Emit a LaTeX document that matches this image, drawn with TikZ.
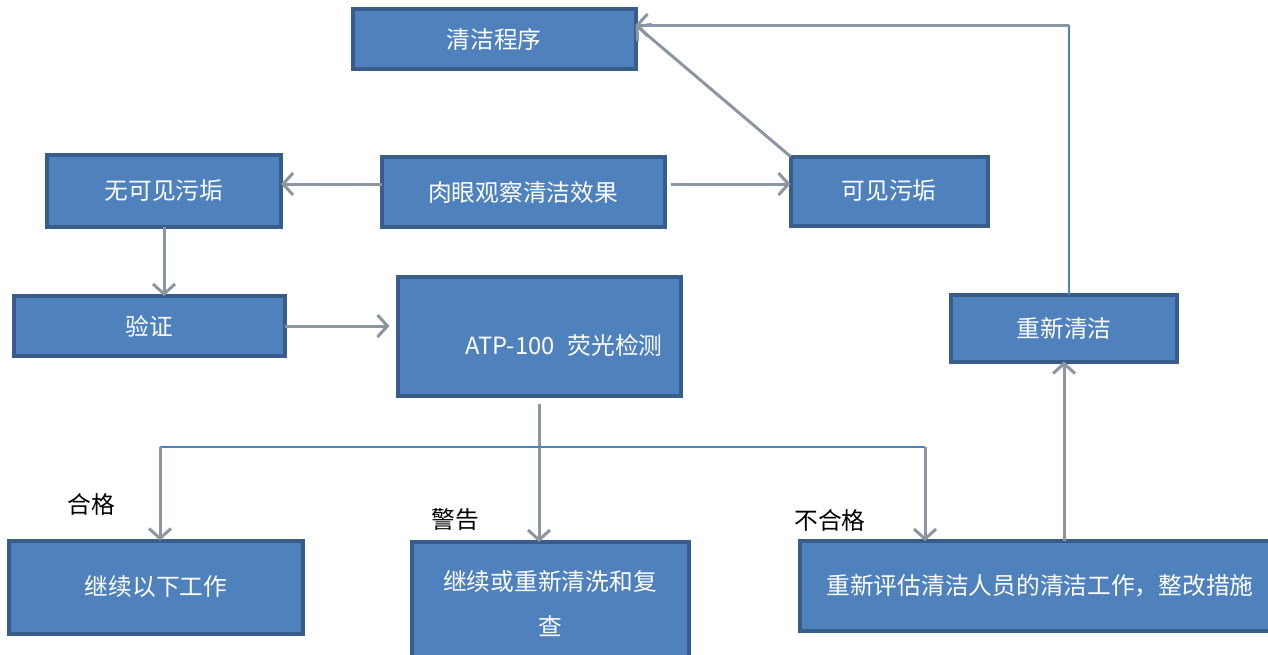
\documentclass[tikz,border=0pt]{standalone}
\usepackage{fontspec}
\setmainfont{Noto Sans CJK SC}
\usetikzlibrary{arrows.meta}
\newcommand{\unit}{*0.2mm}
\newcommand{\arrow}{{Straight Barb[length=10\unit, width=22\unit]}}
\newcommand{\lineWidth}{3\unit}
\newcommand{\borderWidth}{4\unit}
\definecolor{boxBlue}{HTML}{4F81BD}
\definecolor{boxEdge}{HTML}{385D8A}
\definecolor{lineGray}{HTML}{8C96A3}
\tikzstyle{box}=[draw=boxEdge, fill=boxBlue, line width=\borderWidth, text=white, inner sep=0, outer sep=0, font=\fontsize{13.5}{15}\selectfont]
\tikzstyle{line}=[draw=lineGray, line width=\lineWidth]
\tikzstyle{arrow}=[line, -\arrow]
\tikzstyle{wire}=[draw=boxBlue, line width=2.5\unit]
\tikzstyle{tag}=[inner sep=0, text=black, font=\fontsize{13.5}{15}\selectfont]

\begin{document}
\begin{tikzpicture}[x=0.2mm, y=-0.2mm]

% Frame
\useasboundingbox (0,0) rectangle (1268,654);

% Boxes
\node[box, minimum width=283\unit, minimum height=60\unit] (procedure) at (494,39) {清洁程序};
\node[box, minimum width=234\unit, minimum height=72\unit] (noDirt) at (164,191) {无可见污垢};
\node[box, minimum width=283\unit, minimum height=70\unit] (observe) at (523,192) {肉眼观察清洁效果};
\node[box, minimum width=197\unit, minimum height=69\unit] (dirt) at (889,191) {可见污垢};
\node[box, minimum width=271\unit, minimum height=60\unit] (verify) at (149,326) {验证};
\node[box, minimum width=283\unit, minimum height=119\unit] (atp) at (539,336) {\hspace*{10mm}\raisebox{-1.8mm}[\height][\depth]{ATP-100\hspace{2.6mm}荧光检测}};
\node[box, minimum width=226\unit, minimum height=67\unit] (reclean) at (1064,328) {重新清洁};
\node[box, minimum width=294\unit, minimum height=93\unit] (proceed) at (156,587) {继续以下工作};
\node[box, minimum width=277\unit, minimum height=124\unit, align=center, font=\fontsize{13.5}{25.6}\selectfont] (recheck) at (550,604) {继续或重新清洗和复\\查};
\node[box, minimum width=480\unit, minimum height=90\unit] (reassess) at (1040,586) {重新评估清洁人员的清洁工作，整改措施};

% Result tags
\node[tag] (passTag) at (91,504) {合格};
\node[tag] (warnTag) at (455,520) {警告};
\node[tag] (failTag) at (830,520) {不合格};

% Useful coordinates
\coordinate (turn) at (1069,25);
\coordinate (splitL) at (160,447);
\coordinate (splitR) at (925,447);

% Visual check
\draw[arrow] ([yshift=8\unit]observe.west) -- ([yshift=8\unit]observe.west -| noDirt.east);
\draw[arrow, shorten <=6\unit] ([yshift=8\unit]observe.east) -- ([yshift=8\unit]observe.east -| dirt.west);
\draw[arrow] (dirt.north west) -- ([yshift=14\unit]procedure.east);
\draw[wire] ([xshift=5\unit]reclean.north) -- (turn);
\draw[arrow] (turn) -- ([yshift=14\unit]procedure.east);

% Verification
\draw[arrow] (noDirt.south) -- (noDirt.south |- verify.north);
\draw[arrow, shorten >=8\unit] (verify.east) -- (verify.east -| atp.west);
\draw[arrow, shorten <=8\unit] (atp.south) -- (atp.south |- recheck.north);

% Split
\draw[wire] (splitL) -- (splitR);
\draw[arrow] (splitL) -- (splitL |- proceed.north);
\draw[arrow] (splitR) -- (splitR |- reassess.north);
\draw[arrow] (reclean.south |- reassess.north) -- (reclean.south);

\end{tikzpicture}
\end{document}
